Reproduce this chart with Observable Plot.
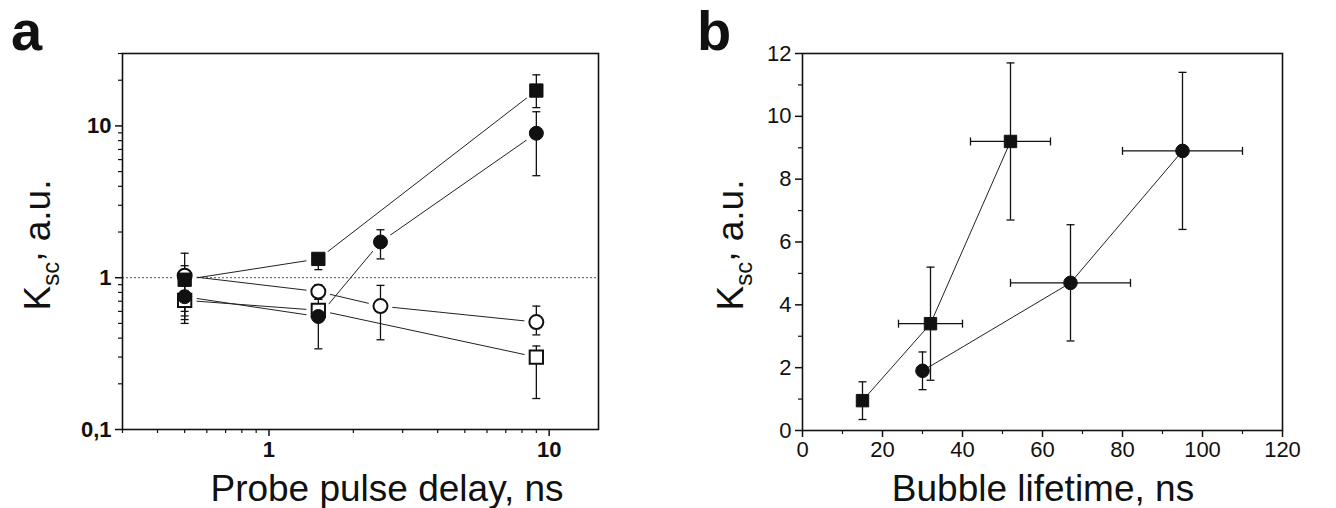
<!DOCTYPE html>
<html>
<head>
<meta charset="utf-8">
<script src="https://cdn.jsdelivr.net/npm/d3@7"></script>
<script src="https://cdn.jsdelivr.net/npm/@observablehq/plot@0.6"></script>
<style>
  html, body { margin: 0; padding: 0; background: #fff; }
  #wrap { position: relative; width: 1336px; height: 508px; overflow: hidden; background: #fff; }
  #pa, #pb, #overlay { position: absolute; top: 0; }
  #pa { left: 0; }
  #pb { left: 650px; }
  #overlay { left: 0; pointer-events: none; }
</style>
</head>
<body>
<div id="wrap">
  <div id="pa"></div>
  <div id="pb"></div>
  <svg id="overlay" width="1336" height="508"></svg>
</div>
<script>
// ---------- Panel a data (probe pulse delay, ns vs K_sc) ----------
const aFSqX  = [0.5, 1.5, 9];
const aFSqY  = [0.97, 1.33, 17.1];
const aFSqLo = [0.56, 1.13, 13.2];
const aFSqHi = [1.45, 1.42, 21.7];

const aFCirX  = [0.5, 1.5, 2.5, 9];
const aFCirY  = [0.75, 0.555, 1.72, 8.95];
const aFCirLo = [0.53, 0.34, 1.33, 4.7];
const aFCirHi = [0.88, 0.66, 2.07, 12.4];

const aOCirX  = [0.5, 1.5, 2.5, 9];
const aOCirY  = [1.03, 0.81, 0.65, 0.51];
const aOCirLo = [0.6, 0.72, 0.39, 0.42];
const aOCirHi = [1.2, 0.9, 0.89, 0.65];

const aOSqX  = [0.5, 1.5, 9];
const aOSqY  = [0.71, 0.61, 0.30];
const aOSqLo = [0.5, 0.52, 0.16];
const aOSqHi = [0.82, 0.72, 0.355];

const aXTicks = [1, 10];
const aXTickLabels = ["1", "10"];
const aXMinor = [0.3, 0.4, 0.5, 0.6, 0.7, 0.8, 0.9, 2, 3, 4, 5, 6, 7, 8, 9];
const aYTicks = [0.1, 1, 10];
const aYTickLabels = ["0,1", "1", "10"];
const aYMinor = [0.2, 0.3, 0.4, 0.5, 0.6, 0.7, 0.8, 0.9, 2, 3, 4, 5, 6, 7, 8, 9, 20, 30];
const aRefLine = [1];

// ---------- Panel b data (bubble lifetime, ns vs K_sc) ----------
const bSqX   = [15, 32, 52];
const bSqY   = [0.95, 3.4, 9.2];
const bSqYLo = [0.35, 1.6, 6.7];
const bSqYHi = [1.55, 5.2, 11.7];
const bSqXLo = [null, 24, 42];
const bSqXHi = [null, 40, 62];

const bCirX   = [30, 67, 95];
const bCirY   = [1.9, 4.7, 8.9];
const bCirYLo = [1.3, 2.85, 6.4];
const bCirYHi = [2.5, 6.55, 11.4];
const bCirXLo = [null, 52, 80];
const bCirXHi = [null, 82, 110];

const bXTicks = [0, 20, 40, 60, 80, 100, 120];
const bXMinor = [10, 30, 50, 70, 90, 110];
const bYTicks = [0, 2, 4, 6, 8, 10, 12];
const bYMinor = [1, 3, 5, 7, 9, 11];

// ---------- helpers ----------
const FONT = '"Liberation Sans", Arial, Helvetica, sans-serif';
const TICK_FS = 22;
const hCap = { draw(ctx, size) { const w = Math.sqrt(size / Math.PI); ctx.moveTo(-w, 0); ctx.lineTo(w, 0); } };
const vCap = { draw(ctx, size) { const w = Math.sqrt(size / Math.PI); ctx.moveTo(0, -w); ctx.lineTo(0, w); } };

function rows(xs, ys, lo, hi, xlo, xhi) {
  return xs.map((x, i) => ({ x, y: ys[i], lo: lo[i], hi: hi[i],
    xlo: xlo ? xlo[i] : null, xhi: xhi ? xhi[i] : null }));
}

const aFSq = rows(aFSqX, aFSqY, aFSqLo, aFSqHi);
const aFCir = rows(aFCirX, aFCirY, aFCirLo, aFCirHi);
const aOCir = rows(aOCirX, aOCirY, aOCirLo, aOCirHi);
const aOSq = rows(aOSqX, aOSqY, aOSqLo, aOSqHi);
const aAll = [aFSq, aFCir, aOCir, aOSq];

function errMarks(data, capR) {
  return [
    Plot.ruleX(data, { x: "x", y1: "lo", y2: "hi", stroke: "#111", strokeWidth: 1.3 }),
    Plot.dot(data, { x: "x", y: "lo", symbol: hCap, r: capR, stroke: "#111", fill: "none", strokeWidth: 1.3 }),
    Plot.dot(data, { x: "x", y: "hi", symbol: hCap, r: capR, stroke: "#111", fill: "none", strokeWidth: 1.3 })
  ];
}

const plotA = Plot.plot({
  width: 650, height: 508,
  marginLeft: 122, marginRight: 52, marginTop: 53, marginBottom: 79,
  x: { type: "log", domain: [0.3, 15] },
  y: { type: "log", domain: [0.1, 30] },
  style: { fontFamily: FONT, fontSize: TICK_FS + "px", fontWeight: "bold", color: "#111", background: "transparent" },
  marks: [
    Plot.ruleY(aRefLine, { stroke: "#555", strokeWidth: 1, strokeDasharray: "2,2" }),
    ...aAll.map(d => Plot.line(d, { x: "x", y: "y", stroke: "#222", strokeWidth: 1 })),
    // white gaps around symbols (Origin-style)
    ...aAll.map(d => Plot.dot(d, { x: "x", y: "y", r: 12, fill: "white", stroke: null })),
    ...aAll.flatMap(d => errMarks(d, 4)),
    Plot.dot(aOSq, { x: "x", y: "y", symbol: "square", r: 7.5, fill: "white", stroke: "#111", strokeWidth: 2 }),
    Plot.dot(aOCir, { x: "x", y: "y", symbol: "circle", r: 7, fill: "white", stroke: "#111", strokeWidth: 2 }),
    Plot.dot(aFSq, { x: "x", y: "y", symbol: "square", r: 7.5, fill: "#111", stroke: "#111", strokeWidth: 1 }),
    Plot.dot(aFCir, { x: "x", y: "y", symbol: "circle", r: 7, fill: "#111", stroke: "#111", strokeWidth: 1 }),
    Plot.axisX(aXMinor, { tickSize: 4, tickFormat: () => "", label: null, strokeWidth: 1.2 }),
    Plot.axisX(aXTicks, { tickSize: 7, tickPadding: 5, fontSize: TICK_FS, fontWeight: "bold", tickFormat: d => aXTickLabels[aXTicks.indexOf(d)], label: null, strokeWidth: 1.5 }),
    Plot.axisY(aYMinor, { tickSize: 4, tickFormat: () => "", label: null, strokeWidth: 1.2 }),
    Plot.axisY(aYTicks, { tickSize: 7, tickPadding: 4, fontSize: TICK_FS, fontWeight: "bold", tickFormat: d => aYTickLabels[aYTicks.indexOf(d)], label: null, strokeWidth: 1.5 }),
    Plot.frame({ stroke: "#111", strokeWidth: 1.6 })
  ]
});
document.getElementById("pa").append(plotA);

// ---------- Panel b ----------
const bSq = rows(bSqX, bSqY, bSqYLo, bSqYHi, bSqXLo, bSqXHi);
const bCir = rows(bCirX, bCirY, bCirYLo, bCirYHi, bCirXLo, bCirXHi);
const bAll = [bSq, bCir];

function xErrMarks(data, capR) {
  const d = data.filter(r => r.xlo != null && r.xhi != null);
  return [
    Plot.ruleY(d, { y: "y", x1: "xlo", x2: "xhi", stroke: "#111", strokeWidth: 1.3 }),
    Plot.dot(d, { x: "xlo", y: "y", symbol: vCap, r: capR, stroke: "#111", fill: "none", strokeWidth: 1.3 }),
    Plot.dot(d, { x: "xhi", y: "y", symbol: vCap, r: capR, stroke: "#111", fill: "none", strokeWidth: 1.3 })
  ];
}

const plotB = Plot.plot({
  width: 686, height: 508,
  marginLeft: 152, marginRight: 54, marginTop: 53, marginBottom: 78,
  x: { domain: [0, 120] },
  y: { domain: [0, 12] },
  style: { fontFamily: FONT, fontSize: TICK_FS + "px", color: "#111", background: "transparent" },
  marks: [
    ...bAll.map(d => Plot.line(d, { x: "x", y: "y", stroke: "#222", strokeWidth: 1 })),
    ...bAll.flatMap(d => errMarks(d, 4)),
    ...bAll.flatMap(d => xErrMarks(d, 4)),
    Plot.dot(bSq, { x: "x", y: "y", symbol: "square", r: 7, fill: "#111", stroke: "#111", strokeWidth: 1 }),
    Plot.dot(bCir, { x: "x", y: "y", symbol: "circle", r: 6.8, fill: "#111", stroke: "#111", strokeWidth: 1 }),
    Plot.axisX(bXMinor, { tickSize: 4, tickFormat: () => "", label: null, strokeWidth: 1.2 }),
    Plot.axisX(bXTicks, { tickSize: 7, tickPadding: 4, fontSize: TICK_FS, label: null, strokeWidth: 1.5 }),
    Plot.axisY(bYMinor, { tickSize: 4, tickFormat: () => "", label: null, strokeWidth: 1.2 }),
    Plot.axisY(bYTicks, { tickSize: 7, tickPadding: 4, fontSize: TICK_FS, label: null, strokeWidth: 1.5 }),
    Plot.frame({ stroke: "#111", strokeWidth: 1.6 })
  ]
});
document.getElementById("pb").append(plotB);

// ---------- Overlay labels ----------
const ov = d3.select("#overlay").style("font-family", FONT).attr("fill", "#111");
ov.append("text").attr("x", 11).attr("y", 50).attr("font-size", 56).attr("font-weight", "bold").text("a");
ov.append("text").attr("x", 697).attr("y", 50).attr("font-size", 56).attr("font-weight", "bold").text("b");
ov.append("text").attr("x", 387).attr("y", 501).attr("font-size", 37).attr("text-anchor", "middle").text("Probe pulse delay, ns");
ov.append("text").attr("x", 1043).attr("y", 501).attr("font-size", 37).attr("text-anchor", "middle").text("Bubble lifetime, ns");

function yLabel(cx, cy) {
  const t = ov.append("text").attr("transform", `translate(${cx},${cy}) rotate(-90)`)
    .attr("font-size", 37).attr("text-anchor", "middle");
  t.append("tspan").text("K");
  t.append("tspan").attr("font-size", 24).attr("dy", 9).text("sc");
  t.append("tspan").attr("dy", -17).text(",");
  t.append("tspan").attr("dy", 8).text(" a.u.");
}
yLabel(50, 245);
yLabel(743, 245);
</script>
</body>
</html>
